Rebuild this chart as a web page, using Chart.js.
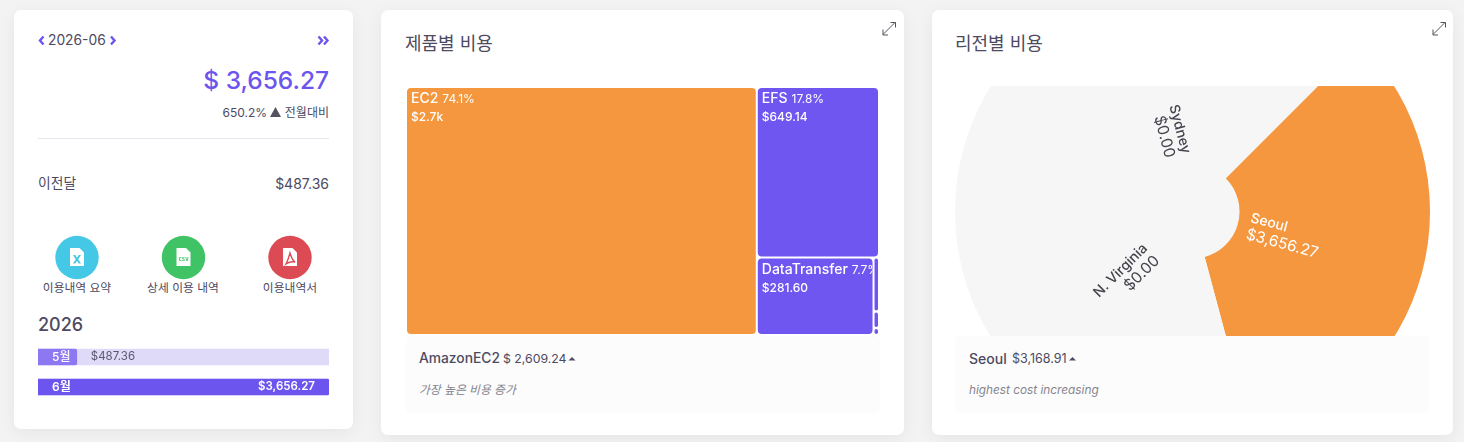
<!DOCTYPE html>
<html lang="ko"><head><meta charset="utf-8">
<script src="https://cdn.jsdelivr.net/npm/chart.js@4"></script>
<style>
html,body{margin:0;padding:0;width:1464px;height:442px;overflow:hidden;background:#f3f3f3;font-family:Inter,"Noto Sans CJK KR",sans-serif;color:#4d4a62}
.card{position:absolute;background:#fff;border-radius:7px;box-shadow:0 4px 18px rgba(0,0,0,.06)}
.t{position:absolute;white-space:nowrap;line-height:1}
.r{text-align:right}.c{text-align:center}
canvas{position:absolute;display:block}
.foot{position:absolute;background:#fcfcfc;border-radius:5px}
svg{position:absolute;overflow:visible;z-index:5}
.clip{position:absolute;overflow:hidden}
</style></head><body>
<div class="card" style="left:14px;top:10px;width:339px;height:419px"></div>
<div class="card" style="left:381px;top:10px;width:523px;height:425px"></div>
<div class="card" style="left:932px;top:10px;width:521px;height:425px"></div>

<svg style="left:0;top:0" width="10" height="10">
 <g fill="none" stroke="#6c55ee" stroke-width="2.4">
  <path d="M43.500 36.500l-3.500 4 3.500 4"/><path d="M111 36.500l3.500 4-3.500 4"/>
  <path d="M318.500 36.500l3.500 4-3.500 4"/><path d="M324 36.500l3.500 4-3.500 4"/>
 </g>
 <g fill="none" stroke="#55525f" stroke-width="1">
  <path d="M883 34.500l12-12M890.500 22.500h5v5M883 29.500v5.500h5"/>
  <path d="M1433 34.500l12-12M1440.500 22.500h5v5M1433 29.500v5.500h5"/>
 </g>
 <path d="M270 117l5.500-10 5.500 10z" fill="#55525f"/>
 <path d="M568.500 360.500l3.500-3.500 3.500 3.500z" fill="#4d4a62"/>
 <path d="M1069 360.500l3.500-3.500 3.500 3.500z" fill="#4d4a62"/>
 <circle cx="77" cy="257.500" r="21.700" fill="#44c8e6"/>
 <circle cx="183.500" cy="257.500" r="21.700" fill="#3fc364"/>
 <circle cx="290" cy="257.500" r="21.700" fill="#dc4a53"/>
 <g fill="#fff">
  <path d="M70 248h9.500l4.500 4.500V266H70z"/><path d="M176.500 248h9.500l4.500 4.500V266h-14z"/><path d="M283 248h9.500l4.500 4.500V266h-14z"/>
 </g>
 <path d="M73 255h2.300l1.700 2.800 1.700-2.800H81l-2.800 4.300 2.800 4.300h-2.300l-1.700-2.800-1.700 2.800H73l2.800-4.300z" fill="#44c8e6"/>
 <text x="183.500" y="261" text-anchor="middle" font-size="5.500" font-weight="700" fill="#3fc364" font-family="DejaVu Sans Mono,monospace">CSV</text>
 <path d="M290 253c1 3 2 7 5 9-3-.5-6 0-9 2 1.500-3 3-7 4-11z" fill="none" stroke="#dc4a53" stroke-width="1.400"/>
</svg>

<div class="t" style="left:48px;top:34px;font-size:13.800px">2026-06</div>
<div class="t r" style="right:1135px;top:68px;font-size:24.500px;font-weight:500;color:#6c55ee">$ 3,656.27</div>
<div class="t r" style="right:1197px;top:107px;font-size:12px">650.2%</div>
<div class="t r" style="right:1135px;top:107px;font-size:12px">전월대비</div>
<div style="position:absolute;left:38px;top:138px;width:291px;height:1px;background:#e6e6ee"></div>
<div class="t" style="left:38px;top:177px;font-size:13.800px">이전달</div>
<div class="t r" style="right:1135px;top:177px;font-size:14px">$487.36</div>
<div class="t c" style="left:27px;width:100px;top:283px;font-size:11.800px">이용내역 요약</div>
<div class="t c" style="left:133px;width:100px;top:283px;font-size:11.800px">상세 이용 내역</div>
<div class="t c" style="left:240px;width:100px;top:283px;font-size:11.800px">이용내역서</div>
<div class="t" style="left:38px;top:316px;font-size:18px;font-weight:500">2026</div>
<canvas id="monthly" width="291" height="60" style="left:38px;top:342px;width:291px;height:60px"></canvas>

<div class="t" style="left:405px;top:35px;font-size:18px">제품별 비용</div>
<canvas id="products" width="473" height="248" style="left:406px;top:87px;width:473px;height:248px"></canvas>
<div class="foot" style="left:406px;top:336px;width:474px;height:77px"></div>
<div class="t" style="left:419px;top:352px;font-size:13.800px;font-weight:500">AmazonEC2</div>
<div class="t" style="left:503px;top:353px;font-size:12.300px">$ 2,609.24</div>
<div class="t" style="left:419px;top:385px;font-size:11.800px;font-style:italic;color:#85858f">가장 높은 비용 증가</div>

<div class="t" style="left:955px;top:35px;font-size:18px">리전별 비용</div>
<div class="clip" style="left:950px;top:86px;width:490px;height:250px">
 <canvas id="regions" width="475" height="475" style="left:5px;top:-112px;width:475px;height:475px"></canvas>
</div>
<div class="foot" style="left:955px;top:336px;width:475px;height:77px"></div>
<div class="t" style="left:969px;top:352px;font-size:14px;font-weight:500">Seoul</div>
<div class="t" style="left:1012px;top:353px;font-size:12.500px">$3,168.91</div>
<div class="t" style="left:969px;top:385px;font-size:11.800px;font-style:italic;color:#85858f">highest cost increasing</div>

<script>
const FONT='Inter,"Noto Sans CJK KR",sans-serif';
const monthLabels=['5월','6월'];
const monthCosts=[487.36,3656.27];
const productNames=['EC2','EFS','DataTransfer','S3','CloudWatch','VPC'];
const productCosts=[2709.3,649.14,281.6,9.2,2.8,1.2];
const productShown=['$2.7k','$649.14','$281.60','','',''];
const productPercents=['74.1%','17.8%','7.7%','','',''];
const productColors=['#f4973e','#7056f0','#7056f0','#7056f0','#7056f0','#7056f0'];
const regionNames=['Seoul','N. Virginia','Sydney'];
const regionCosts=[3656.27,0,0];
const regionArcs=[120,120,120];
const regionColors=['#f4973e','#f6f6f6','#f6f6f6'];
const money=v=>'$'+v.toLocaleString('en-US',{minimumFractionDigits:2,maximumFractionDigits:2});

Chart.defaults.animation=false;
Chart.defaults.events=[];
Chart.defaults.font.family=FONT;

/* Monthly bars */
new Chart(document.getElementById('monthly'),{
 type:'bar',
 data:{labels:monthLabels,datasets:[
  {data:monthCosts,backgroundColor:['#8e78f1','#6c55ee'],barThickness:16,borderRadius:2,order:1},
  {data:monthLabels.map(()=>Math.max(...monthCosts)),backgroundColor:'#e0daf9',barThickness:16,order:2}
 ]},
 options:{indexAxis:'y',responsive:false,layout:{padding:0},
  plugins:{legend:{display:false},tooltip:{enabled:false}},
  scales:{x:{display:false,min:0,max:Math.max(...monthCosts)},y:{display:false,grid:{display:false},stacked:false}},
  datasets:{bar:{grouped:false}}},
 plugins:[{id:'monthText',afterDatasetsDraw(c){
  const g=c.ctx,m=c.getDatasetMeta(0);
  g.save();g.textBaseline='middle';
  m.data.forEach((b,i)=>{
   const last=i===monthLabels.length-1;
   g.font=(last?'600 ':'500 ')+'12px '+FONT;g.fillStyle='#fff';g.textAlign='left';
   g.fillText(monthLabels[i],c.scales.x.left+14,b.y);
   if(last){g.font='600 11.5px '+FONT;g.textAlign='right';g.fillText(money(monthCosts[i]),b.x-14,b.y);}
   else{g.font='11.5px '+FONT;g.fillStyle='#5b5870';g.fillText(money(monthCosts[i]),b.x+14,b.y);}
  });
  g.restore();
 }}]
});

/* Treemap controller that lays out BarElements through the scales */
class TreemapController extends Chart.DatasetController{
 static id='treemap';
 static defaults={dataElementType:'bar'};
 update(){
  const meta=this._cachedMeta,vals=this.getDataset().data,col=this.getDataset().backgroundColor;
  const xs=this.chart.scales.x,ys=this.chart.scales.y;
  let x0=xs.getPixelForValue(0),x1=xs.getPixelForValue(1),y0=ys.getPixelForValue(1),y1=ys.getPixelForValue(0);
  let rest=vals.reduce((a,b)=>a+b,0);
  meta.data.forEach((el,i)=>{
   const f=i===vals.length-1?1:vals[i]/rest;
   let a=x0,b=y0,c=x1,d=y1;
   if(x1-x0>=y1-y0){c=x0+(x1-x0)*f;x0=c;}else{d=y0+(y1-y0)*f;y0=d;}
   rest-=vals[i];
   const L=a+1,R=c-1,T=b+1,B=d-1;
   Object.assign(el,{x:(L+R)/2,y:T,base:B,width:R-L,height:B-T,horizontal:false,inflateAmount:0,enableBorderRadius:true,
    borderSkipped:{top:false,right:false,bottom:false,left:false},
    options:{backgroundColor:col[i],borderColor:col[i],borderWidth:0,borderRadius:Math.min(4,(R-L)/2)}});
  });
 }
}
Chart.register(TreemapController);
new Chart(document.getElementById('products'),{
 type:'treemap',
 data:{labels:productNames,datasets:[{data:productCosts,backgroundColor:productColors}]},
 options:{responsive:false,layout:{padding:0},
  plugins:{legend:{display:false},tooltip:{enabled:false}},
  scales:{x:{type:'linear',display:false,min:0,max:1},y:{type:'linear',display:false,min:0,max:1}}},
 plugins:[{id:'tileText',afterDatasetsDraw(c){
  const g=c.ctx;
  c.getDatasetMeta(0).data.forEach((el,i)=>{
   if(!productShown[i])return;
   const L=el.x-el.width/2,T=el.y;
   g.save();g.beginPath();g.rect(L,T,el.width,el.height);g.clip();
   g.fillStyle='#fff';g.textBaseline='alphabetic';g.textAlign='left';
   g.font='500 14px '+FONT;g.fillText(productNames[i],L+4,T+15);
   const w=g.measureText(productNames[i]).width;
   g.font='12px '+FONT;g.fillText(productPercents[i],L+8+w,T+15);
   g.font='500 12px '+FONT;g.fillText(productShown[i],L+4,T+33);
   g.restore();
  });
 }}]
});

/* Regions sunburst */
new Chart(document.getElementById('regions'),{
 type:'doughnut',
 data:{labels:regionNames,datasets:[
  {data:regionArcs,backgroundColor:regionColors,borderWidth:0,weight:190.5},
  {data:[1],backgroundColor:['#f6f6f6'],borderWidth:0,weight:47}
 ]},
 options:{responsive:false,cutout:0,rotation:45,layout:{padding:0},
  plugins:{legend:{display:false},tooltip:{enabled:false}}},
 plugins:[{id:'radialText',afterDatasetsDraw(c){
  const g=c.ctx;
  c.getDatasetMeta(0).data.forEach((a,i)=>{
   const mid=(a.startAngle+a.endAngle)/2,cs=Math.cos(mid),sn=Math.sin(mid),r=a.innerRadius+11;
   g.save();
   g.translate(a.x+cs*r,a.y+sn*r);
   const right=cs>=0;
   g.rotate(right?mid:mid+Math.PI);
   g.textAlign=right?'left':'right';g.textBaseline='middle';
   g.fillStyle=right?'#fff':'#44434e';
   g.font='500 14px '+FONT;g.fillText(regionNames[i],0,-9);
   g.font='15.5px '+FONT;g.fillText(money(regionCosts[i]),0,8);
   g.restore();
  });
 }}]
});
</script>
</body></html>
